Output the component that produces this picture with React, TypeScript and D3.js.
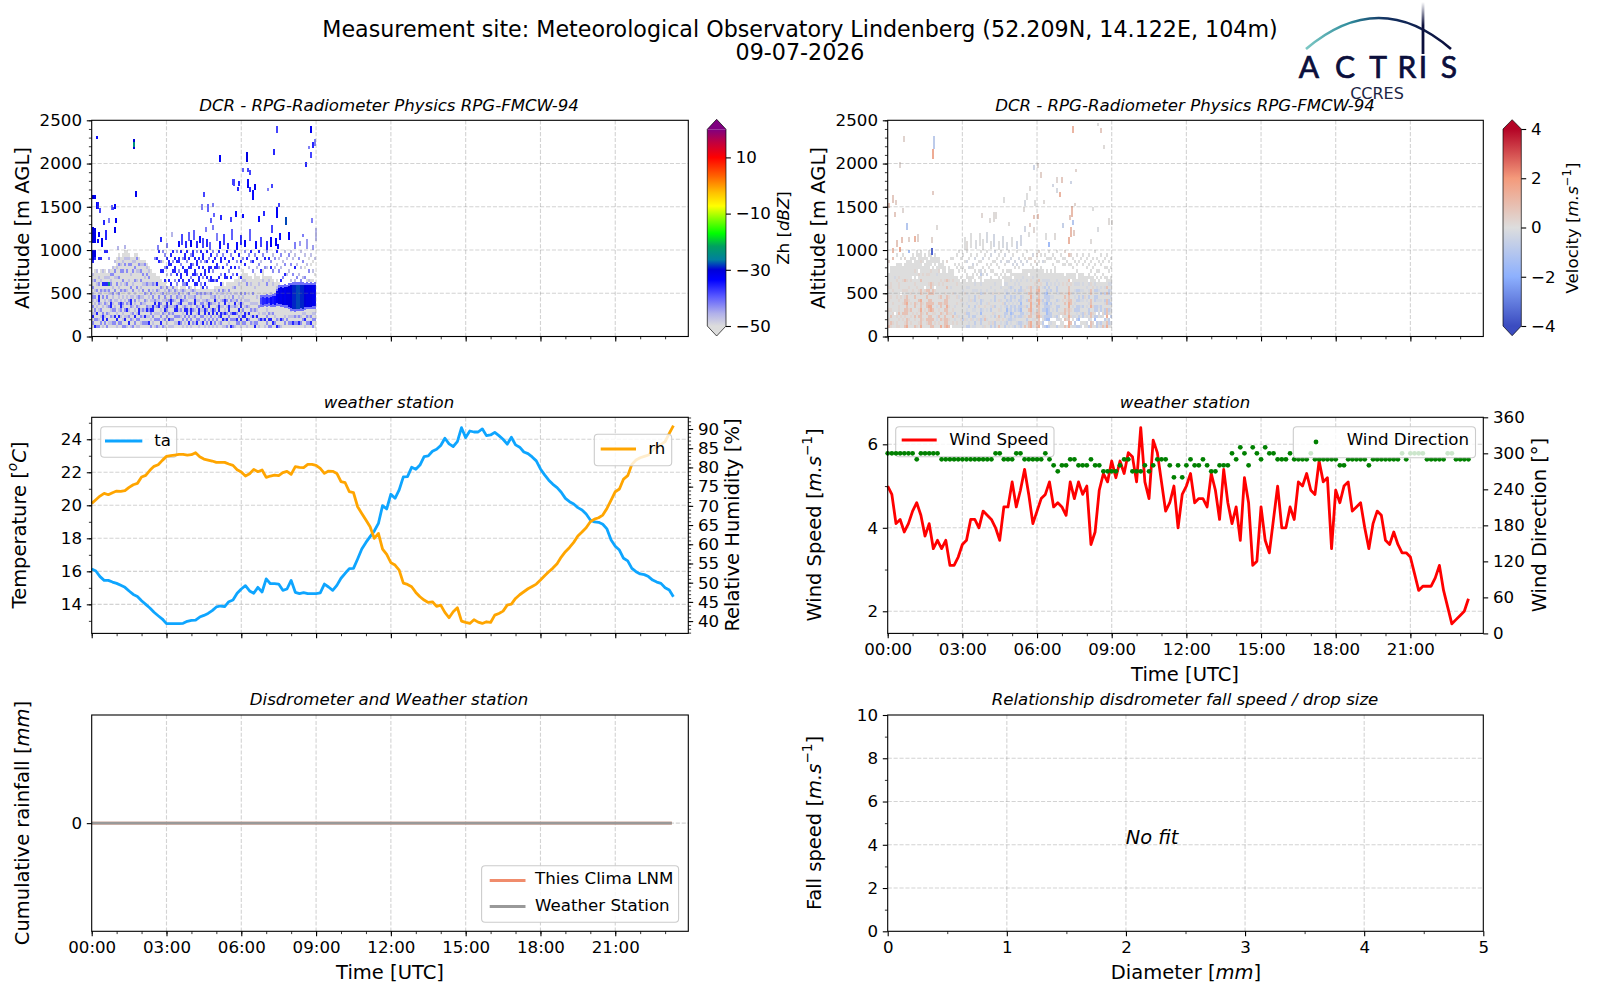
import { useEffect, useRef } from "react";
import * as d3 from "d3";

const FONT = "DejaVu Sans, sans-serif";

// weather station, one sample every 10 minutes
const sampleHours = d3.range(141).map((i) => i / 6);
const ta = [
  16.14, 16.02, 15.68, 15.45, 15.45, 15.35, 15.27, 15.15, 15.03, 14.81, 14.6, 14.48, 14.22, 14.0, 13.78, 13.52, 13.31,
  13.11, 12.83, 12.83, 12.83, 12.83, 12.85, 12.97, 13.03, 13.05, 13.23, 13.33, 13.45, 13.62, 13.84, 13.9, 13.86, 14.16,
  14.26, 14.67, 14.93, 15.13, 14.81, 14.67, 15.03, 14.75, 15.54, 15.25, 15.25, 15.23, 14.85, 14.93, 15.45, 14.73, 14.65,
  14.71, 14.65, 14.65, 14.65, 14.69, 15.23, 15.05, 14.85, 15.15, 15.58, 15.88, 16.16, 16.18, 16.75, 17.35, 17.75, 18.1,
  18.44, 18.9, 19.98, 19.78, 20.67, 20.42, 20.93, 21.72, 21.74, 22.3, 22.18, 22.44, 22.95, 22.99, 23.27, 23.39, 23.62,
  24.06, 23.72, 23.56, 23.86, 24.7, 24.1, 24.5, 24.44, 24.44, 24.63, 24.22, 24.26, 24.42, 24.22, 24.0, 23.7, 24.12,
  23.66, 23.52, 23.23, 23.13, 22.93, 22.69, 22.2, 21.84, 21.52, 21.27, 21.07, 20.79, 20.42, 20.22, 20.08, 19.86, 19.72,
  19.47, 19.11, 18.99, 18.97, 18.85, 18.57, 17.9, 17.52, 17.29, 16.79, 16.63, 16.18, 15.98, 15.84, 15.8, 15.68, 15.47,
  15.35, 15.27, 15.01, 14.87, 14.46,
];
const rh = [
  70.64, 71.6, 72.55, 73.25, 72.9, 73.42, 73.85, 73.77, 73.94, 74.8, 75.5, 75.85, 77.5, 77.93, 79.24, 80.28, 80.71,
  81.84, 82.88, 83.06, 83.23, 83.4, 83.4, 83.23, 83.32, 83.84, 82.8, 82.19, 81.93, 81.67, 81.32, 81.32, 81.32, 80.89,
  80.54, 79.41, 78.8, 77.76, 78.37, 79.5, 78.89, 79.32, 77.41, 77.76, 78.02, 77.85, 78.63, 78.98, 78.2, 80.19, 80.02,
  79.93, 80.8, 80.8, 80.54, 79.76, 78.45, 79.06, 78.98, 78.45, 76.28, 76.02, 73.68, 73.42, 69.77, 68.04, 66.3, 64.57,
  61.53, 62.83, 58.75, 57.36, 55.19, 54.58, 53.28, 49.9, 49.55, 48.94, 47.47, 46.34, 45.47, 44.86, 45.03, 43.82, 44.17,
  42.26, 40.87, 42.43, 43.47, 40.0, 39.65, 39.39, 40.35, 39.74, 39.39, 39.83, 39.65, 41.56, 42.0, 42.6, 44.17, 44.43,
  45.9, 46.86, 47.64, 48.42, 49.03, 49.63, 50.68, 51.81, 52.85, 53.8, 54.93, 56.67, 58.06, 59.18, 60.49, 62.14, 63.18,
  64.31, 65.87, 66.56, 66.91, 67.6, 69.34, 71.51, 73.68, 74.38, 76.98, 77.85, 80.8, 81.93, 82.53, 82.88, 83.23, 84.53,
  85.4, 86.0, 86.7, 88.87, 90.87,
];
const windSpeed = [
  5.0, 4.8, 4.1, 4.2, 3.9, 4.1, 4.4, 4.6, 4.3, 3.8, 4.1, 3.5, 3.7, 3.5, 3.7, 3.1, 3.1, 3.3, 3.6, 3.7, 4.2, 4.2, 4.0, 4.4,
  4.3, 4.2, 4.0, 3.7, 4.5, 4.5, 5.1, 4.5, 4.9, 5.4, 4.8, 4.1, 4.4, 4.7, 4.8, 5.1, 4.5, 4.6, 4.5, 4.3, 5.1, 4.7, 5.1, 4.8,
  5.0, 3.6, 3.9, 4.9, 5.3, 5.1, 5.6, 5.2, 5.6, 5.3, 5.8, 5.7, 5.1, 6.4, 5.1, 4.7, 6.1, 5.8, 5.1, 4.4, 4.6, 5.0, 4.0, 4.8,
  5.0, 5.3, 4.6, 4.7, 4.7, 4.5, 5.3, 4.9, 4.2, 5.4, 4.6, 4.1, 4.5, 3.7, 5.2, 4.6, 3.1, 3.2, 4.5, 3.7, 3.4, 4.2, 5.0, 4.0,
  4.0, 4.5, 4.2, 5.1, 5.0, 5.3, 4.9, 4.8, 5.6, 5.1, 5.2, 3.5, 4.9, 4.6, 5.0, 5.1, 4.4, 4.5, 4.6, 4.0, 3.5, 4.1, 4.4, 4.3,
  3.7, 3.6, 3.9, 3.6, 3.4, 3.4, 3.3, 2.9, 2.5, 2.6, 2.6, 2.6, 2.8, 3.1, 2.5, 2.1, 1.7, 1.8, 1.9, 2.0, 2.3,
];
const windDir = [
  300, 300, 300, 300, 300, 300, 300, 290, 300, 300, 300, 300, 300, 290, 290, 290, 290, 290, 290, 290, 290, 290, 290, 290,
  290, 290, 300, 300, 290, 290, 290, 300, 300, 290, 290, 290, 290, 290, 300, 290, 280, 270, 280, 280, 290, 290, 280, 280,
  280, 290, 280, 280, 270, 270, 270, 270, 280, 290, 290, 270, 270, 270, 280, 270, 280, 290, 290, 290, 280, 260, 280, 260,
  280, 290, 280, 280, 290, 280, 270, 270, 280, 280, 280, 300, 290, 310, 300, 280, 310, 300, 290, 310, 300, 300, 290, 290,
  290, 300, 290, 290, 290, 290, 300, 290, 290, 290, 290, 290, 290, 280, 280, 290, 290, 290, 290, 290, 280, 290, 290, 290,
  290, 290, 290, 290, 300, 290, 300, 300, 300, 300, 290, 290, 290, 290, 290, 300, 300, 290, 290, 290, 290,
];

const rainfallHours = [0, 23.27];
const rainfallWeatherStation = [0, 0];
const rainfallDisdrometer = [0, 0];

const timeTickHours = [0, 3, 6, 9, 12, 15, 18, 21];
const taTicks = [14, 16, 18, 20, 22, 24];
const rhTicks = [40, 45, 50, 55, 60, 65, 70, 75, 80, 85, 90];
const wsTicks = [2, 4, 6];
const wdTicks = [0, 60, 120, 180, 240, 300, 360];
const altTicks = [0, 500, 1000, 1500, 2000, 2500];
const zhTicks = [-50, -30, -10, 10];
const velTicks = [-4, -2, 0, 2, 4];
const fallTicks = [0, 2, 4, 6, 8, 10];
const diamTicks = [0, 1, 2, 3, 4, 5];

// colour bar stops
const zhStops = [-50, -45.5, -39.5, -33.5, -30, -26.4, -21.6, -17, -12, -7.3, -2.5, 3.5, 10, 15.4, 20];
const zhColors = [
  "#dcdcdc", "#b0b0ea", "#5a5aff", "#0000ff", "#0000d8", "#007f9f", "#00a060", "#00ff00", "#80ff00", "#ffff00",
  "#ffc000", "#ff6000", "#ff0000", "#c00040", "#800080",
];
const velStops = [-4, -2, 0, 2, 4];
const velColors = ["#3b4cc0", "#8db0fe", "#dddddd", "#f49a7b", "#b40426"];

// radar grid: 112 columns (00:00 to 09:00), each string runs from 1000 m down to 100 m
const gridHoursPerCol = 9 / 112;
const gridAltTop = 1000;
const gridRowMetres = 37.5;
const zhLevels: Record<string, number> = { ".": -50, a: -47, c: -43, b: -36, B: -31, t: -24 };
const zhCols = [
  "BBBb   a.a.c.aca.c.ab.c.", "BBb   ...c..a.c.a.ca.c.b", "      a...a.c..a.a.b.c.c", "  b    .a.c..abbc.a..a.c",
  "  b   ...a..ca..a.c.a.c.", "      a...b.a.c..a.cbb.a", "b     ..a.b.c..ac...a.c.", "b      .a.b.a.c.aa.c.b.c",
  "  c   a.a.t.ca.a.c.a..a.", "      .c.ac..a.cbba.c.a.", "     a.c...a.ca.a.c.a.c.", "   a .c.a...c..a.ac.b.c.",
  "  ...a..a.c..a.a...a.b.a", " .a.c...c..a.ca.c.a.b.c.", "  ..a.c...a.c..abbc.a.c.", " ..a..c..c..a.a.ca.a.a.c",
  "..a.c.....a.c..a..c.ab.c", "..a...c...c.a.a.c.b.a..a", " .a.c....a...a.ca.a.c.b.", "  ..c..a...c..abbc.a.c.a",
  "  .a..c...a.c.a..a.c.a.c", " ..a.c...c...a.ca.a.b.c.", " .c...a..a.c..a..c.a.c.a", "  ..c.a.....a.ca.abb.c.a",
  "   .a.c..c.a..a.c.a.c.a.", "   .a..c..a.c.a.a.c.a.c.", "   .c...a.a..c.ca.a.b.c.", "    .a.c..c..a.a.cb.a.c.",
  "     .a.c.a.c.a..ac.a.b.", "      ....a..c.a.abc.a.c", "       ...c.a.ca.bb.c.a.", "  c    ...a..a.cba.a.c.a",
  "  b     ..b.c..a.c.a.c.c", "b  b    ....a.cabb.a.c.a", "   c  b  ..c.a..c.a.c.b.", "c  .  b   .a.c.a.a.c.a.c",
  " c   c   b..a.ca.cba.c.a", "  b  b a   c.a.abbc.c.a.", "   bb    b .ca.c.a.c.b.a", " b  b  c  b.a.cbba.a.c.a",
  "b  c  b    c.a.c.a.c.c.a", "  b  bb  c .ca.a.cb.c.a.", "c  b   b  c.a.c.abb.c.a.", "  bb  c  b  .ca.c.a.c.b.",
  "b   c  bb  .a.abb.c.a.c.", "  c  b   bc.ca.c.a.a.c.a", " bb   b   c.a.ca.cb.c.a.", "b  c  bb  b .a.a.abb.c.a",
  "  b  b   b c.ca.c.a.c.b.", " c  bb  c  .a.a.cabb.c.a", "bb  c  b b  c.a.a.c.a.c.", "  b   bb  b.a.cbb.a.c.a.",
  "c  bb  c  b .c.a.c.a.cb.", "  b  b  bb  .a.a.abb.c.a", "b  c   b  c..ca.c.a.c.a.", " bb  b  c  b.a.acba.c.b.",
  "   c  bb  b .c.a.abb.c.a", "b  b    b  c.a.ca.c.a.c.", "  c  bb  c  .a.abb.b.c.a", " b   b  bb  .ca.c.a.c.b.",
  "c  b  c  b  ..a.a.bb.c.a", "  b  b   c .a.cba.c.a.c.", " c  bb   b ..a.a.a.b.c.a", "b    c  b  .c.a.cbb.c.a.",
  "  bb   c  b..a.a.a.bb.c.", " c   b    ..ca.c.a.c.b.a", "  b    bb  .a.abb.ab.c.a", "b   c   b ...a.c.a.c.b.c",
  "   b  c   ..c.a.abb.c.a.", " c   b  b ...a.c.a.c.c.b", "  b    c  .a..ca.a.b.c.c", "b    b   ..c.a.abc.b.c.a",
  "   c   b ....a.c.a.c.bc.", " b   c  ..a...a.a.b.c.c.", "   b    b ...c.abb.a.b.a", "  c   ...a....a.a.c.b.c.",
  "c   b  ..a...c.a.a.bb.c.", "  b    ...c....a.c.a.b.a", " c   a  .....a.a.a.b.c..", "b  c    ..a.....a.c.a.c.",
  "   b  c  ....c..a.a.b.a.", " c     ....a....a.c.a.cb", "  b  a  ......a.a.a.b.c.", "b   c   ..a......c.a.c.a",
  "   a  b  .....a......b..", " c    ...a.........a.c..", "  b  c  ...........a.b.a", "c    a  ..c.......a.c.c.",
  "  b     .a.........c.b.c", "   c b  .....a.....a.b.c", " a    c  .a........c..b.", "  c  a    ....a.....a.c.",
  "b   a    ..a.........c.b", "  a   c   ...........a.c", " c   a   b ..a.......b.a", "   a    c  ..........c..",
  "a   c  b   .a.......a.c.", "  a    a   ..........c..", " c    a     ..a.....a.c.", "a   c    a  ......a.a.c.",
  "  a    c    ........a.b.", " a   b   a  .a......c.c.", "    a   c   ........a.c.", "  c    a    ..a.....c.b.",
  "a    a   c  ........a.c.", "   c    a   .a.....a.c..", " a   .  c   .......a.b.a", "    a    . a..a.....c.c.",
  "  .   c  a  ........a.c.", " a  .    .  .a......c.b.", "   .  a  .  .......a.c.c", "  a    .  . ..a....a.c..",
];
const velLevels: Record<string, number> = { ".": 0, p: 0.25, r: 0.8, o: 1.4, l: -0.25, s: -0.7, d: -1.4 };
const velCols = [
  "   p   ....p..pp..p..ppr", "     .....pp..p...p.r.rp", "  r  .......p...p..p..p.", "     ...l.......... ....",
  " .  .....p....p.....p.pp", "    ....p.pp...p.ppr.p.p", "  . ......... p.....p...", " .   ....p..p...p..r.p..",
  "  p .....r..p.prr.rrp.pr", "   ......p..p.rrorrr.rro", "d  ........p...p..p..p..", "  .......p...p..p.r.p.p.",
  " .. .... ...p......p....", "  ....p...p...r.rr..rp.r", ".. ..... ..p....p..p...p", " ..... p....p..r..p.r.p.",
  "...p.....r..rr.orrorrrro", "  .. ..p.....p..p..p.p..", " .. ....... p.....p.....", "  .....p....r.r.rr.r.rp.",
  ".. ....p..p.rr.rror.rrr.", " .... p...rr.r.rroo.rrrr", "  .. .....p.rr..r.rp.r.r", " .... ..... p......p..p.",
  "  .. ..l.........l..ll..", "  ....p...p...p.r.p.r.p.", "    .. ..p....r.rr.r.r.o", "   .......p.....p..p.p..",
  "     ....p...p.rr.r.rrrr", "   p   ..r.r..rrrorr.rro", "     ....p....p..p.p.p.r", "  .   .....l.......p... .",
  "  .   ...p...p....p.r.p.", "    .   .....l...l.s.l..", " .   .  ..p...p.p...p.p.", ".   . .  .....l.....l...",
  "  .  .  . .....p.....p..", " .   .   ...l...l...ls.l", "   .  .  ....p.....p.p..", ".  l   .. .l.l..l.ls.l.s",
  "  .  l  ...l..ll.s.ss.ls", " .   .  .......p.....p..", "    l. .. ..l..l..l.sl.l", "  l   .  .l.l.ss.sl.s.sl",
  " .  .  .  ..l...l..l.l..", "   .  . . ....p..p...p..", ".  .  ls..l.ls.ss.sd.ss.", "  l  . .  ...l.l..l.ll.l",
  " .    .  ....p...p..pr.p", ".   .  l ...l...l.l..l..", "  .  .   .......p.....p.", " l  . . ...l.l.l.ls.l.ls",
  "   .  .  ....p...p.p..p.", "l  .   . .l.l.ss.s.ls.ss", "  . .  . ............p..", " .   .  .....p.p..p.rp.r",
  ".  l   . ..l...l.ll.l.l.", "  .   . .  .....p....p..", " l  .  ...l.l.s.sl.ss.ls", "   l  . ..l.ls.s.sds.ls.",
  ".  l  . ...l.l.ll.l.ls.l", "  l   ...l.sl.ss.ssdssl.", " .  l  . ..l..l.ll.s.l.l", "   l . ...l.s.sl.ss.sl.s",
  ".   l  ..l...l..l.l.l.l.", "  l  . ...l.sl.s.ss.s.sl", "   l   ..l.ss.ssdsdss.ss", " .  l ..l...l.l..l.sl.l.",
  "  .   ......p....p..p..r", ".  l  ...l.l.l.s.s.l.sl.", "  p   . ...p.r.r..r.r.rr", "  p . ...p.rrrorooorr.oo",
  " l   ...l..l..l.l.ll.l.l", "   p  ....p.....p..p.p..", " p  . ....p.rr.r.r.rr.rr", "p  .  ...r.rorroorrrorro",
  " .   .....p....p....p .", "   l  ...l.l.l.sl.s.l.sl", " . .   ..l.s.ss.sss.ss s", "  .   ...ls.sdssdsddsd d",
  ". .    ..l.sl.ss.ssssd.s", "  .   ....l.s.l.sl.ss l.", " .  .  .......l...l.. ..", "  .  .....l.....l...l ..",
  ".  .   ..l.ssl.s.ss.sl s", "   .   ...l..l.l.s.l.l .", " .     ......p.....p ...", "  . .  ...p..p.p...p. ..",
  "p . .   ......r.r.rr.r r", "   .   ...p....p..p..p .", " r  .  ..r.rrorroorroroo", " p  .  .. p..p.rr.p.p r.",
  "  .  . ......l...l..l. l", "   .   ...l.l.l.l.s.l sl", " .  . .  .l.sl.s.ssl.s s", "   .   ...l.s.ss.ss.sd s",
  "  .    .....l..l.l.l. .l", " .  .  ...l.l.sl.s.ss .", "   .    ......p....p. ..", "  .  .  ...l...l.l..l l.",
  " .  .  .. l.l.s.l.ss.l s", "   .  . ..p.rr.rro.rr.rr", "  .  .  ...p.....p.p. p.", ".   .  . .l.s.ss.ss.sd .",
  "  .   . . .ls.sl.ss s ss", "   .  .  ...l..l.l.l. l.", " .  .   . .l.s.l.ss l sl", "   .   .  ...p.....p. .r",
  "  .  .  . .l.s.sl.ss s.l", " .   .  ...r.r.rr.rro.ro", "   .  .  .l.ss.ss.sl ss.", "  .  .  ..l.l.l.s.l.s l.",
];

// dense echo between 06:45 and 09:00
const coreHours = [
  6.75, 6.83, 6.91, 6.99, 7.07, 7.15, 7.23, 7.31, 7.39, 7.47, 7.55, 7.63, 7.71, 7.79, 7.87, 7.95, 8.03, 8.11, 8.19, 8.27,
  8.35, 8.43, 8.51, 8.59, 8.67, 8.75, 8.83, 8.91,
];
const coreBase = [
  375, 370, 380, 375, 385, 370, 375, 370, 385, 380, 375, 370, 365, 360, 345, 330, 320, 315, 320, 320, 325, 320, 340, 345,
  345, 345, 350, 350,
];
const coreTop = [
  450, 455, 445, 460, 450, 455, 465, 470, 525, 560, 570, 560, 575, 570, 585, 590, 600, 595, 600, 595, 600, 600, 590, 595,
  590, 595, 590, 600,
];
const coreZh = [
  -38, -36, -36, -35, -36, -34, -35, -34, -33, -32, -32, -31, -32, -31, -31, -30, -29, -29, -28, -28, -29, -29, -30, -31,
  -31, -31, -32, -32,
];

// isolated echoes: hour, bottom m, top m, value
const zhStreaks = [
  [0.19, 2283, 2322, -34], [1.67, 2164, 2280, -30], [1.67, 2195, 2253, -24], [1.75, 1617, 1682, -32], [5.12, 2021, 2098, -33],
  [6.18, 2021, 2129, -31], [7.38, 2357, 2434, -38], [7.29, 2098, 2164, -36], [8.77, 2357, 2434, -32], [8.82, 2175, 2253, -36],
  [8.69, 2164, 2203, -42], [8.93, 2203, 2280, -42], [8.77, 2060, 2137, -38], [8.57, 1956, 2021, -36], [6.02, 1906, 1952, -40],
  [6.24, 1906, 1944, -38], [6.31, 1867, 1925, -38], [5.61, 1752, 1817, -38], [5.68, 1740, 1817, -38], [5.84, 1686, 1732, -36],
  [5.88, 1740, 1802, -36], [6.24, 1752, 1817, -34], [6.22, 1721, 1752, -32], [6.32, 1675, 1725, -36], [6.42, 1578, 1694, -34],
  [6.51, 1694, 1763, -32], [7.05, 1686, 1713, -42], [7.21, 1713, 1763, -38], [4.48, 1617, 1675, -38], [4.37, 1463, 1532, -42],
  [4.61, 1443, 1532, -40], [4.81, 1501, 1540, -42], [0.03, 1585, 1640, -30], [0.03, 1085, 1270, -30], [0.08, 1085, 1250, -32],
  [0.08, 1585, 1640, -33], [0.16, 1470, 1559, -33], [0.23, 1470, 1559, -35], [0.29, 1424, 1482, -38], [0.78, 1463, 1520, -40],
  [0.91, 1470, 1532, -33], [0.8, 1463, 1501, -38], [0.94, 1308, 1374, -33], [0.44, 1289, 1347, -36], [0.67, 1308, 1366, -42],
  [0.91, 1193, 1270, -32], [0.53, 1116, 1231, -36], [0.27, 1154, 1212, -33], [0.2, 1077, 1127, -34], [0.37, 1039, 1135, -32],
  [7.77, 1289, 1386, -28], [7.49, 1493, 1547, -38], [7.38, 1366, 1501, -33], [6.89, 1393, 1455, -36], [6.68, 1328, 1393, -34],
  [6.04, 1366, 1416, -34], [5.75, 1386, 1455, -34], [5.55, 1328, 1386, -38], [5.15, 1347, 1405, -36], [4.88, 1386, 1424, -40],
  [4.75, 1308, 1366, -40], [4.81, 1231, 1289, -42], [4.55, 1212, 1270, -42], [7.18, 1193, 1289, -38], [7.15, 1039, 1154, -33],
  [7.53, 1116, 1200, -34], [7.87, 1116, 1212, -33], [8.78, 1308, 1366, -42], [8.45, 1154, 1185, -42], [8.94, 1173, 1231, -44],
  [2.6, 1000, 1060, -42], [2.75, 1090, 1150, -36], [3.0, 1020, 1080, -42], [3.2, 1150, 1210, -46], [3.45, 1030, 1110, -34],
  [3.6, 1060, 1180, -38], [3.75, 1020, 1110, -36], [3.85, 1100, 1210, -40], [3.95, 1030, 1120, -32], [4.05, 1120, 1230, -40],
  [4.2, 1020, 1100, -36], [4.3, 1080, 1160, -34], [4.42, 1020, 1140, -38], [4.6, 1040, 1130, -36], [4.72, 1000, 1090, -40],
  [4.98, 1100, 1200, -42], [5.1, 1010, 1100, -34], [5.28, 1060, 1180, -38], [5.42, 1010, 1080, -36], [5.6, 1120, 1240, -40],
  [5.78, 1000, 1090, -34], [5.95, 1060, 1170, -36], [6.1, 1030, 1120, -33], [6.3, 1100, 1240, -40], [6.55, 1010, 1100, -34],
  [6.75, 1040, 1150, -38], [6.98, 1000, 1100, -36], [7.35, 1050, 1140, -33], [7.42, 1010, 1070, -34], [8.1, 1010, 1090, -42],
  [8.3, 1050, 1110, -44], [8.6, 1010, 1130, -44], [8.85, 1000, 1060, -44], [8.95, 1100, 1250, -46], [1.0, 1000, 1050, -46],
  [1.3, 1010, 1060, -46],
];
const velStreaks = [
  [0.63, 2252, 2318, 0.3], [0.47, 1944, 2021, 0.2], [1.82, 2164, 2318, -0.8], [1.79, 2048, 2164, 1.5], [1.79, 1636, 1686, 0.5],
  [0.03, 1481, 1539, 0.8], [0.16, 1539, 1636, 0.6], [0.29, 1520, 1578, 0.4], [0.27, 1377, 1443, 0.6], [0.56, 1424, 1481, 0.2],
  [0.74, 1231, 1308, -1], [1.94, 1231, 1289, 0.1], [7.4, 2356, 2433, 1.2], [8.42, 2433, 2472, 0], [8.53, 2356, 2406, 0.6],
  [8.66, 2167, 2214, 0.1], [5.85, 1925, 1982, -0.4], [5.98, 1944, 2002, 0.2], [6.13, 1828, 1905, 0.4], [5.68, 1686, 1740, 0.1],
  [5.56, 1578, 1655, 0], [5.49, 1508, 1578, -0.2], [4.65, 1539, 1609, 0], [5.45, 1443, 1501, 0.1], [5.86, 1508, 1578, 0],
  [6.22, 1532, 1578, 0.1], [7.52, 1905, 1932, 0.3], [6.95, 1770, 1840, 0.6], [6.77, 1770, 1840, 0.2], [6.61, 1724, 1763, -0.3],
  [6.77, 1655, 1713, -0.2], [6.87, 1616, 1674, 1.2], [7.34, 1763, 1801, -0.4], [7.35, 1385, 1508, 1], [7.3, 1347, 1404, 0.6],
  [7.42, 1289, 1347, -1], [7.48, 1508, 1547, 0.3], [6.99, 1250, 1316, -0.6], [7.32, 1154, 1269, 1], [7.46, 1161, 1231, 0.5],
  [7.26, 1069, 1154, 1.2], [8.22, 1454, 1501, 0], [8.86, 1289, 1366, 0.1], [8.96, 1289, 1347, 0.1], [8.39, 1212, 1269, -0.1],
  [8.13, 1069, 1123, 0.1], [5.98, 1354, 1416, 0.8], [5.82, 1354, 1404, 0.7], [5.69, 1262, 1316, 0.5], [4.31, 1354, 1443, 0.1],
  [4.22, 1327, 1443, 0.1], [4.08, 1308, 1366, 0.1], [3.73, 1366, 1424, 0.2], [4.82, 1277, 1327, 0.1], [5.47, 1212, 1277, -0.3],
  [5.85, 1192, 1269, 0.2], [5.65, 1146, 1212, 0], [6.32, 1115, 1192, 0], [6.68, 1115, 1192, 0.1], [6.45, 1038, 1096, -1.5],
  [1.74, 942, 1019, -3.5], [0.47, 980, 1038, 1.5], [0.52, 1077, 1154, 0.8], [0.33, 1038, 1115, 0.7], [0.16, 969, 1019, 1],
  [0.83, 1096, 1154, 0.4], [1.07, 1096, 1162, 1.2], [1.19, 1096, 1185, 0.3], [1.73, 1077, 1154, 0.3], [3.05, 1000, 1150, 0],
  [3.15, 1000, 1100, 0.1], [3.3, 1020, 1200, 0], [3.5, 1010, 1120, -0.1], [3.65, 1050, 1200, 0], [3.8, 1000, 1130, 0],
  [3.95, 1080, 1210, -0.2], [4.1, 1010, 1100, 0], [4.25, 1040, 1190, -0.3], [4.45, 1000, 1110, 0], [4.6, 1020, 1160, -0.2],
  [4.75, 1000, 1090, -0.2], [4.95, 1040, 1150, 0], [5.15, 1010, 1110, -0.4], [5.3, 1050, 1170, -0.3],
];

type Part = { t: string; italic?: boolean; sup?: boolean };
type G = d3.Selection<SVGGElement, unknown, null, undefined>;

const TICK_SIZE = 16.67;
const TITLE_SIZE = 16.6;
const LABEL_SIZE = 19.5;
const CBAR_LABEL_SIZE = 16.67;

// layout of the six panels
const LEFT = { x0: 91.7, x1: 688.3 };
const RIGHT = { x0: 887.7, x1: 1483.3 };
const ROW1 = { y0: 120.3, y1: 336.5 };
const ROW2 = { y0: 417.3, y1: 633.4 };
const ROW3 = { y0: 715, y1: 931.3 };
const XMAX_HOURS = 23.93;
const hourFmt = (h: d3.NumberValue) => `${String(+h).padStart(2, "0")}:00`;
const plainFmt = (v: d3.NumberValue) => String(+v).replace("-", "−");
const hourly = d3.range(0, 24);

function putText(
  g: G,
  parts: Part[],
  x: number,
  y: number,
  size: number,
  opts: { anchor?: string; rotate?: boolean; italic?: boolean } = {},
) {
  const text = g
    .append("text")
    .attr("font-family", FONT)
    .attr("font-size", size)
    .attr("fill", "#000")
    .attr("text-anchor", opts.anchor ?? "middle")
    .attr("dominant-baseline", "middle")
    .attr("font-style", opts.italic ? "italic" : "normal")
    .attr("transform", opts.rotate ? `translate(${x},${y}) rotate(-90)` : `translate(${x},${y})`);
  let raised = false;
  parts.forEach((p) => {
    const span = text.append("tspan").text(p.t);
    if (p.italic) span.attr("font-style", "italic");
    if (p.sup) {
      span.attr("font-size", size * 0.7).attr("dy", -size * 0.38);
      raised = true;
    } else if (raised) {
      span.attr("dy", size * 0.38);
      raised = false;
    }
  });
}

function yAxis(
  g: G,
  scale: d3.ScaleLinear<number, number>,
  x: number,
  ticks: number[],
  minor: number[],
  side: "left" | "right" = "left",
) {
  const make = side === "left" ? d3.axisLeft : d3.axisRight;
  const major = g
    .append("g")
    .attr("transform", `translate(${x},0)`)
    .call(make(scale).tickValues(ticks).tickFormat(plainFmt).tickSize(4.9).tickPadding(4.8).tickSizeOuter(0));
  major.select(".domain").remove();
  major.selectAll("line").attr("stroke-width", 1.1);
  major.selectAll("text").attr("font-family", FONT).attr("font-size", TICK_SIZE).attr("fill", "#000");
  if (minor.length) {
    const m = g
      .append("g")
      .attr("transform", `translate(${x},0)`)
      .call(make(scale).tickValues(minor).tickSize(2.8).tickFormat(() => "").tickSizeOuter(0));
    m.select(".domain").remove();
    m.selectAll("line").attr("stroke-width", 0.8);
  }
}

function xAxis(
  g: G,
  scale: d3.ScaleLinear<number, number>,
  y: number,
  ticks: number[],
  minor: number[],
  fmt: ((v: d3.NumberValue) => string) | null,
) {
  const major = g
    .append("g")
    .attr("transform", `translate(0,${y})`)
    .call(
      d3
        .axisBottom(scale)
        .tickValues(ticks)
        .tickSize(4.9)
        .tickPadding(4.8)
        .tickSizeOuter(0)
        .tickFormat(fmt ?? (() => "")),
    );
  major.select(".domain").remove();
  major.selectAll("line").attr("stroke-width", 1.1);
  major.selectAll("text").attr("font-family", FONT).attr("font-size", TICK_SIZE).attr("fill", "#000");
  const m = g
    .append("g")
    .attr("transform", `translate(0,${y})`)
    .call(d3.axisBottom(scale).tickValues(minor).tickSize(2.8).tickFormat(() => "").tickSizeOuter(0));
  m.select(".domain").remove();
  m.selectAll("line").attr("stroke-width", 0.8);
}

function drawGrid(
  g: G,
  x: d3.ScaleLinear<number, number>,
  y: d3.ScaleLinear<number, number>,
  xs: number[],
  ys: number[],
) {
  const [x0, x1] = x.range();
  const [y1, y0] = y.range();
  const style = (s: d3.Selection<SVGLineElement, number, SVGGElement, unknown>) =>
    s.attr("stroke", "#7f7f7f").attr("stroke-opacity", 0.34).attr("stroke-width", 1.1).attr("stroke-dasharray", "4.1,1.8");
  const grid = g.append("g");
  style(
    grid
      .selectAll<SVGLineElement, number>("line.v")
      .data(xs)
      .join("line")
      .attr("class", "v")
      .attr("x1", (d) => x(d))
      .attr("x2", (d) => x(d))
      .attr("y1", y0)
      .attr("y2", y1),
  );
  style(
    grid
      .selectAll<SVGLineElement, number>("line.h")
      .data(ys)
      .join("line")
      .attr("class", "h")
      .attr("x1", x0)
      .attr("x2", x1)
      .attr("y1", (d) => y(d))
      .attr("y2", (d) => y(d)),
  );
}

function drawFrame(g: G, x0: number, x1: number, y0: number, y1: number) {
  g.append("rect")
    .attr("x", x0)
    .attr("y", y0)
    .attr("width", x1 - x0)
    .attr("height", y1 - y0)
    .attr("fill", "none")
    .attr("stroke", "#000")
    .attr("stroke-width", 1.1);
}

function legendBox(g: G, x0: number, x1: number, y0: number, y1: number) {
  g.append("rect")
    .attr("x", x0)
    .attr("y", y0)
    .attr("width", x1 - x0)
    .attr("height", y1 - y0)
    .attr("rx", 3.5)
    .attr("fill", "#fff")
    .attr("fill-opacity", 0.8)
    .attr("stroke", "#ccc")
    .attr("stroke-width", 1.1);
}

function legendLine(g: G, x0: number, x1: number, y: number, color: string) {
  g.append("line")
    .attr("x1", x0)
    .attr("x2", x1)
    .attr("y1", y)
    .attr("y2", y)
    .attr("stroke", color)
    .attr("stroke-width", 2.8);
}

function plotLine(
  g: G,
  hours: number[],
  values: number[],
  x: d3.ScaleLinear<number, number>,
  y: d3.ScaleLinear<number, number>,
  color: string,
) {
  const line = d3
    .line<number>()
    .x((_, i) => x(hours[i]))
    .y((d) => y(d));
  g.append("path")
    .datum(values)
    .attr("d", line)
    .attr("fill", "none")
    .attr("stroke", color)
    .attr("stroke-width", 2.8)
    .attr("stroke-linejoin", "round");
}

function drawRadar(
  g: G,
  cols: string[],
  levels: Record<string, number>,
  streaks: number[][],
  x: d3.ScaleLinear<number, number>,
  y: d3.ScaleLinear<number, number>,
  color: (v: number) => string,
) {
  const cells: { h: number; a0: number; a1: number; v: number }[] = [];
  cols.forEach((col, c) => {
    col
      .slice(0, 24)
      .split("")
      .forEach((ch, r) => {
        if (levels[ch] === undefined) return;
        cells.push({
          h: c * gridHoursPerCol,
          a0: gridAltTop - (r + 1) * gridRowMetres,
          a1: gridAltTop - r * gridRowMetres,
          v: levels[ch],
        });
      });
  });
  streaks.forEach(([h, a0, a1, v]) => cells.push({ h, a0, a1, v }));
  g.append("g")
    .attr("shape-rendering", "crispEdges")
    .selectAll("rect")
    .data(cells)
    .join("rect")
    .attr("x", (d) => x(d.h))
    .attr("width", x(gridHoursPerCol) - x(0))
    .attr("y", (d) => y(d.a1))
    .attr("height", (d) => y(d.a0) - y(d.a1))
    .attr("fill", (d) => color(d.v));
}

function colorBar(
  defs: d3.Selection<SVGDefsElement, unknown, null, undefined>,
  g: G,
  id: string,
  scale: d3.ScaleLinear<number, number>,
  color: d3.ScaleLinear<string, string>,
  x0: number,
  x1: number,
  tipTop: number,
  tipBottom: number,
  ticks: number[],
) {
  const [yBot, yTop] = scale.range();
  const [vMin, vMax] = scale.domain();
  const grad = defs
    .append("linearGradient")
    .attr("id", id)
    .attr("x1", 0)
    .attr("x2", 0)
    .attr("y1", 1)
    .attr("y2", 0);
  color.domain().forEach((v) => {
    grad
      .append("stop")
      .attr("offset", (v - vMin) / (vMax - vMin))
      .attr("stop-color", color(v));
  });
  g.append("rect")
    .attr("x", x0)
    .attr("y", yTop)
    .attr("width", x1 - x0)
    .attr("height", yBot - yTop)
    .attr("fill", `url(#${id})`);
  const xm = (x0 + x1) / 2;
  g.append("path").attr("d", `M${x0},${yTop}L${xm},${tipTop}L${x1},${yTop}Z`).attr("fill", color(vMax));
  g.append("path").attr("d", `M${x0},${yBot}L${xm},${tipBottom}L${x1},${yBot}Z`).attr("fill", color(vMin));
  g.append("path")
    .attr("d", `M${x0},${yTop}L${xm},${tipTop}L${x1},${yTop}L${x1},${yBot}L${xm},${tipBottom}L${x0},${yBot}Z`)
    .attr("fill", "none")
    .attr("stroke", "#000")
    .attr("stroke-opacity", 0.75)
    .attr("stroke-width", 0.9);
  yAxis(g, scale, x1, ticks, [], "right");
}

export default function App() {
  const svgRef = useRef<SVGSVGElement>(null);

  useEffect(() => {
    if (!svgRef.current) return;
    const svg = d3.select(svgRef.current);
    svg.selectAll("*").remove();
    const root = svg.append("g") as unknown as G;
    const defs = svg.append("defs");

    const tLeft = d3.scaleLinear().domain([0, XMAX_HOURS]).range([LEFT.x0, LEFT.x1]);
    const tRight = d3.scaleLinear().domain([0, XMAX_HOURS]).range([RIGHT.x0, RIGHT.x1]);
    const zhColor = d3.scaleLinear<string>().domain(zhStops).range(zhColors);
    const velColor = d3.scaleLinear<string>().domain(velStops).range(velColors);

    // Header
    putText(root, [{ t: "Measurement site: Meteorological Observatory Lindenberg (52.209N, 14.122E, 104m)" }], 800, 30, 22.2);
    putText(root, [{ t: "09-07-2026" }], 800, 52.5, 22.2);

    // Logo
    const arcGrad = defs
      .append("linearGradient")
      .attr("id", "logoArc")
      .attr("gradientUnits", "userSpaceOnUse")
      .attr("x1", 1306)
      .attr("x2", 1451)
      .attr("y1", 0)
      .attr("y2", 0);
    [
      [0, "#7cc8c4"],
      [0.3, "#2f8c9c"],
      [0.55, "#123060"],
      [1, "#0b0f3c"],
    ].forEach(([o, c]) => arcGrad.append("stop").attr("offset", o).attr("stop-color", c));
    const barGrad = defs
      .append("linearGradient")
      .attr("id", "logoBar")
      .attr("x1", 0)
      .attr("x2", 0)
      .attr("y1", 0)
      .attr("y2", 1);
    barGrad.append("stop").attr("offset", 0).attr("stop-color", "#0b0f3c").attr("stop-opacity", 0);
    barGrad.append("stop").attr("offset", 0.45).attr("stop-color", "#0b0f3c");
    root
      .append("path")
      .attr("d", "M1306,49Q1379,-13 1451,49")
      .attr("fill", "none")
      .attr("stroke", "url(#logoArc)")
      .attr("stroke-width", 2.6);
    root.append("rect").attr("x", 1421.6).attr("y", 2).attr("width", 2.8).attr("height", 52).attr("fill", "url(#logoBar)");
    ["A", "C", "T", "R", "I", "S"].forEach((ch, i) => {
      root
        .append("text")
        .attr("x", [1309, 1345, 1378, 1407, 1423, 1449][i])
        .attr("y", 78)
        .attr("text-anchor", "middle")
        .attr("font-family", "Lato, sans-serif")
        .attr("font-size", 30)
        .attr("fill", "#0b0f3c")
        .attr("stroke", "#0b0f3c")
        .attr("stroke-width", 0.7)
        .text(ch);
    });
    root
      .append("text")
      .attr("x", 1377)
      .attr("y", 99)
      .attr("text-anchor", "middle")
      .attr("font-family", FONT)
      .attr("font-size", 16)
      .attr("fill", "#1c2544")
      .text("CCRES");

    // Radar panels
    const radarTitle = [{ t: "DCR - RPG-Radiometer Physics RPG-FMCW-94" }];
    const altL = d3.scaleLinear().domain([0, 2500]).range([ROW1.y1, ROW1.y0]);
    const altMinor = d3.range(0, 2501, 100);

    putText(root, radarTitle, 389, 106, TITLE_SIZE, { italic: true });
    drawRadar(root, zhCols, zhLevels, zhStreaks, tLeft, altL, (v) => zhColor(v));
    const core = root.append("g").attr("shape-rendering", "crispEdges");
    coreHours.forEach((h, i) => {
      core
        .append("rect")
        .attr("x", tLeft(h))
        .attr("width", tLeft(gridHoursPerCol) - tLeft(0))
        .attr("y", altL(coreTop[i] + 30))
        .attr("height", altL(coreBase[i] - 30) - altL(coreTop[i] + 30))
        .attr("fill", zhColor(-41));
      core
        .append("rect")
        .attr("x", tLeft(h))
        .attr("width", tLeft(gridHoursPerCol) - tLeft(0))
        .attr("y", altL(coreTop[i]))
        .attr("height", altL(coreBase[i]) - altL(coreTop[i]))
        .attr("fill", zhColor(coreZh[i]));
    });
    drawGrid(root, tLeft, altL, timeTickHours.slice(1), altTicks.slice(1, -1));
    yAxis(root, altL, LEFT.x0, altTicks, altMinor);
    xAxis(root, tLeft, ROW1.y1, timeTickHours, hourly, null);
    drawFrame(root, LEFT.x0, LEFT.x1, ROW1.y0, ROW1.y1);
    putText(root, [{ t: "Altitude [m AGL]" }], 23, 228, LABEL_SIZE, { rotate: true });
    const zhAxis = d3.scaleLinear().domain([-50, 20]).range([326, 129.3]);
    colorBar(defs, root, "zhGrad", zhAxis, zhColor, 707.3, 726, 119.3, 336, zhTicks);
    putText(root, [{ t: "Zh [" }, { t: "dBZ", italic: true }, { t: "]" }], 784, 228, CBAR_LABEL_SIZE, { rotate: true });

    const altR = altL.copy();
    putText(root, radarTitle, 1185, 106, TITLE_SIZE, { italic: true });
    drawRadar(root, velCols, velLevels, velStreaks, tRight, altR, (v) => velColor(v));
    drawGrid(root, tRight, altR, timeTickHours.slice(1), altTicks.slice(1, -1));
    yAxis(root, altR, RIGHT.x0, altTicks, altMinor);
    xAxis(root, tRight, ROW1.y1, timeTickHours, hourly, null);
    drawFrame(root, RIGHT.x0, RIGHT.x1, ROW1.y0, ROW1.y1);
    putText(root, [{ t: "Altitude [m AGL]" }], 819, 228, LABEL_SIZE, { rotate: true });
    const velAxis = d3.scaleLinear().domain([-4, 4]).range([326, 129]);
    colorBar(defs, root, "velGrad", velAxis, velColor, 1503, 1521.3, 119.7, 335.7, velTicks);
    putText(
      root,
      [{ t: "Velocity [" }, { t: "m.s", italic: true }, { t: "−1", sup: true }, { t: "]" }],
      1573,
      228,
      CBAR_LABEL_SIZE,
      { rotate: true },
    );

    // Temperature and humidity
    const yTa = d3.scaleLinear().domain([12.24, 25.33]).range([ROW2.y1, ROW2.y0]);
    const yRh = d3.scaleLinear().domain([36.8, 93.05]).range([ROW2.y1, ROW2.y0]);
    putText(root, [{ t: "weather station" }], 389, 403, TITLE_SIZE, { italic: true });
    drawGrid(root, tLeft, yTa, timeTickHours.slice(1), taTicks);
    plotLine(root, sampleHours, ta, tLeft, yTa, "#0ea5ff");
    legendBox(root, 100.7, 176.7, 426.7, 457.3);
    legendLine(root, 105, 142.3, 441, "#0ea5ff");
    putText(root, [{ t: "ta" }], 154.3, 441, TICK_SIZE, { anchor: "start" });
    plotLine(root, sampleHours, rh, tLeft, yRh, "#ffa500");
    legendBox(root, 594.3, 671.7, 434.3, 465.7);
    legendLine(root, 600.7, 636, 449, "#ffa500");
    putText(root, [{ t: "rh" }], 648.3, 449, TICK_SIZE, { anchor: "start" });
    yAxis(root, yTa, LEFT.x0, taTicks, d3.range(13, 26, 1));
    yAxis(root, yRh, LEFT.x1, rhTicks, d3.range(37, 94, 1), "right");
    xAxis(root, tLeft, ROW2.y1, timeTickHours, hourly, null);
    drawFrame(root, LEFT.x0, LEFT.x1, ROW2.y0, ROW2.y1);
    putText(root, [{ t: "Temperature [" }, { t: "o", italic: true, sup: true }, { t: "C", italic: true }, { t: "]" }], 20, 525, LABEL_SIZE, {
      rotate: true,
    });
    putText(root, [{ t: "Relative Humidity [%]" }], 733, 525, LABEL_SIZE, { rotate: true });

    // Wind
    const yWs = d3.scaleLinear().domain([1.47, 6.647]).range([ROW2.y1, ROW2.y0]);
    const yWd = d3.scaleLinear().domain([0, 360]).range([ROW2.y1, ROW2.y0]);
    putText(root, [{ t: "weather station" }], 1185, 403, TITLE_SIZE, { italic: true });
    drawGrid(root, tRight, yWs, timeTickHours.slice(1), wsTicks);
    plotLine(root, sampleHours, windSpeed, tRight, yWs, "#ff0000");
    legendBox(root, 895.7, 1054, 426.7, 456.7);
    legendLine(root, 901.7, 936.7, 440, "#ff0000");
    putText(root, [{ t: "Wind Speed" }], 949.3, 440, TICK_SIZE, { anchor: "start" });
    root
      .append("g")
      .selectAll("circle")
      .data(windDir)
      .join("circle")
      .attr("cx", (_, i) => tRight(sampleHours[i]))
      .attr("cy", (d) => yWd(d))
      .attr("r", 2.4)
      .attr("fill", "#008000");
    legendBox(root, 1293.3, 1475.5, 426.7, 457.7);
    root.append("circle").attr("cx", 1316).attr("cy", 442).attr("r", 2.4).attr("fill", "#008000");
    putText(root, [{ t: "Wind Direction" }], 1346.7, 440, TICK_SIZE, { anchor: "start" });
    yAxis(root, yWs, RIGHT.x0, wsTicks, [3, 5]);
    yAxis(root, yWd, RIGHT.x1, wdTicks, [], "right");
    xAxis(root, tRight, ROW2.y1, timeTickHours, hourly, hourFmt);
    drawFrame(root, RIGHT.x0, RIGHT.x1, ROW2.y0, ROW2.y1);
    putText(root, [{ t: "Wind Speed [" }, { t: "m.s", italic: true }, { t: "−1", sup: true }, { t: "]" }], 815, 525, LABEL_SIZE, {
      rotate: true,
    });
    putText(root, [{ t: "Wind Direction [°]" }], 1540, 525, LABEL_SIZE, { rotate: true });
    putText(root, [{ t: "Time [UTC]" }], 1185, 675, LABEL_SIZE);

    // Cumulative rainfall
    const yRain = d3.scaleLinear().domain([-1, 1]).range([ROW3.y1, ROW3.y0]);
    putText(root, [{ t: "Disdrometer and Weather station" }], 389, 700, TITLE_SIZE, { italic: true });
    drawGrid(root, tLeft, yRain, timeTickHours.slice(1), [0]);
    plotLine(root, rainfallHours, rainfallDisdrometer, tLeft, yRain, "#f08c6c");
    plotLine(root, rainfallHours, rainfallWeatherStation, tLeft, yRain, "#999999");
    legendBox(root, 481.6, 678.6, 865.7, 922.3);
    legendLine(root, 489.7, 525.5, 880.5, "#f08c6c");
    putText(root, [{ t: "Thies Clima LNM" }], 535, 879, TICK_SIZE, { anchor: "start" });
    legendLine(root, 489.7, 525.5, 906.5, "#999999");
    putText(root, [{ t: "Weather Station" }], 535, 906, TICK_SIZE, { anchor: "start" });
    yAxis(root, yRain, LEFT.x0, [0], []);
    xAxis(root, tLeft, ROW3.y1, timeTickHours, hourly, hourFmt);
    drawFrame(root, LEFT.x0, LEFT.x1, ROW3.y0, ROW3.y1);
    putText(root, [{ t: "Cumulative rainfall [" }, { t: "mm", italic: true }, { t: "]" }], 23, 823, LABEL_SIZE, { rotate: true });
    putText(root, [{ t: "Time [UTC]" }], 390, 973, LABEL_SIZE);

    // Fall speed against drop size
    const xDiam = d3.scaleLinear().domain([0, 5]).range([RIGHT.x0, RIGHT.x1]);
    const yFall = d3.scaleLinear().domain([0, 10]).range([ROW3.y1, ROW3.y0]);
    putText(root, [{ t: "Relationship disdrometer fall speed / drop size" }], 1185, 700, TITLE_SIZE, { italic: true });
    drawGrid(root, xDiam, yFall, diamTicks.slice(1, -1), fallTicks.slice(1, -1));
    putText(root, [{ t: "No fit" }], 1152, 838, 19.4, { italic: true });
    yAxis(root, yFall, RIGHT.x0, fallTicks, d3.range(1, 10, 2));
    xAxis(root, xDiam, ROW3.y1, diamTicks, d3.range(0.5, 5, 1), plainFmt);
    drawFrame(root, RIGHT.x0, RIGHT.x1, ROW3.y0, ROW3.y1);
    putText(root, [{ t: "Fall speed [" }, { t: "m.s", italic: true }, { t: "−1", sup: true }, { t: "]" }], 815, 823, LABEL_SIZE, {
      rotate: true,
    });
    putText(root, [{ t: "Diameter [" }, { t: "mm", italic: true }, { t: "]" }], 1186, 973, LABEL_SIZE);
  }, []);

  return (
    <svg
      ref={svgRef}
      width={1600}
      height={1000}
      style={{ position: "absolute", left: 0, top: 0, background: "#fff" }}
    ></svg>
  );
}
